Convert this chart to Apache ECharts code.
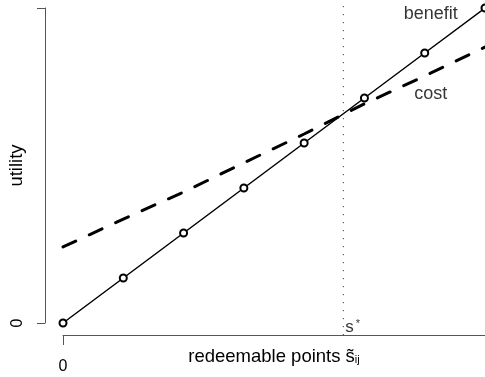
<!DOCTYPE html>
<html>
<head>
<meta charset="utf-8">
<script src="https://cdn.jsdelivr.net/npm/echarts@6/dist/echarts.min.js"></script>
<style>
  html, body { margin: 0; padding: 0; background: #ffffff; }
  #chart { width: 485px; height: 377px; }
</style>
</head>
<body>
<div id="chart"></div>
<script>
// redeemable points on the horizontal axis
const points = [0, 1, 2, 3, 4, 5, 6, 7];
// utility of the benefit (linear, with markers) and of the cost (dashed)
const benefit = [0, 1, 2, 3, 4, 5, 6, 7];
const cost = [1.69, 2.31, 2.91, 3.56, 4.20, 4.87, 5.49, 6.13];
// break-even number of points s*
const sStar = 4.65;
// vertical extent of the s* guide line
const guideSpan = [-0.27, 7.2];
// tick positions
const xTicks = [0];
const yTicks = [0, 7];
const yTickLabels = ['0', ''];
// curve name labels: [x, y, text]
const curveLabels = [[6.1, 6.87, 'benefit'], [6.1, 5.09, 'cost']];

const font = '"Liberation Sans", Arial, Helvetica, sans-serif';

const chart = echarts.init(document.getElementById('chart'), null, { renderer: 'canvas' });

chart.setOption({
  animation: false,
  backgroundColor: '#ffffff',
  grid: { left: 63, right: 0, top: 8, bottom: 54, containLabel: false, outerBoundsMode: 'none' },
  xAxis: {
    type: 'value',
    min: 0,
    max: 7,
    interval: 7,
    offset: 12,
    splitLine: { show: false },
    axisLine: { show: true, onZero: false, lineStyle: { color: '#555', width: 1 } },
    axisTick: { show: true, length: 10, customValues: xTicks, lineStyle: { color: '#555', width: 1 } },
    axisLabel: { show: true, customValues: xTicks, margin: 24, fontSize: 16, color: '#000', fontFamily: font },
    name: '{m|redeemable points s\u0303}{sub|ij}',
    nameLocation: 'middle',
    nameGap: 12,
    nameMoveOverlap: false,
    nameTextStyle: {
      fontFamily: font,
      color: '#000',
      rich: {
        m: { fontSize: 18.5, lineHeight: 18, verticalAlign: 'top', fontFamily: font, color: '#000' },
        sub: { fontSize: 11, lineHeight: 11, padding: [14, 0, 0, 0], verticalAlign: 'bottom', fontFamily: font, color: '#000' }
      }
    }
  },
  yAxis: {
    type: 'value',
    min: 0,
    max: 7,
    interval: 7,
    offset: 18,
    splitLine: { show: false },
    axisLine: { show: true, onZero: false, lineStyle: { color: '#555', width: 1 } },
    axisTick: { show: true, length: 8, lineStyle: { color: '#555', width: 1 } },
    axisLabel: {
      show: true,
      rotate: 90,
      margin: 19,
      fontSize: 16,
      color: '#000',
      fontFamily: font,
      formatter: v => yTickLabels[yTicks.indexOf(v)] ?? ''
    },
    name: 'utility',
    nameLocation: 'middle',
    nameGap: 19,
    nameRotate: 90,
    nameMoveOverlap: false,
    nameTextStyle: { fontSize: 18.5, color: '#000', fontFamily: font }
  },
  series: [
    {
      name: 'guide',
      type: 'line',
      data: guideSpan.map(v => [sStar, v]),
      clip: false,
      showSymbol: false,
      symbol: 'none',
      silent: true,
      lineStyle: { color: '#222', width: 1, type: [1, 7] },
      z: 1
    },
    {
      name: 'benefit',
      type: 'line',
      data: points.map((p, i) => [p, benefit[i]]),
      symbol: 'emptyCircle',
      symbolSize: 7,
      showSymbol: true,
      clip: false,
      lineStyle: { color: '#000', width: 1.5 },
      itemStyle: { color: '#000', borderColor: '#000', borderWidth: 1.6 },
      z: 3
    },
    {
      name: 'cost',
      type: 'line',
      data: points.map((p, i) => [p, cost[i]]),
      showSymbol: false,
      symbol: 'none',
      lineStyle: { color: '#000', width: 3, type: [14, 15], cap: 'round' },
      z: 2
    },
    {
      name: 'labels',
      type: 'scatter',
      symbolSize: 0,
      silent: true,
      data: curveLabels.map(d => ({ value: [d[0], d[1]], name: d[2] })),
      label: {
        show: true,
        position: 'inside',
        formatter: p => p.name,
        fontSize: 18,
        color: '#000',
        fontFamily: font
      },
      z: 4
    },
    {
      name: 'sStarLabel',
      type: 'scatter',
      symbolSize: 0,
      silent: true,
      data: [[sStar, 0]],
      label: {
        show: true,
        position: 'right',
        distance: 2,
        offset: [0, 4],
        color: '#000',
        formatter: '{s|s}{sup|*}',
        rich: {
          s: { fontSize: 17, lineHeight: 17, padding: [28, 0, 0, 0], verticalAlign: 'bottom', fontFamily: font, color: '#000' },
          sup: { fontSize: 11, lineHeight: 11, verticalAlign: 'top', fontFamily: font, color: '#000', padding: [0, 0, 0, 2] }
        }
      },
      z: 4
    }
  ]
});
</script>
</body>
</html>
